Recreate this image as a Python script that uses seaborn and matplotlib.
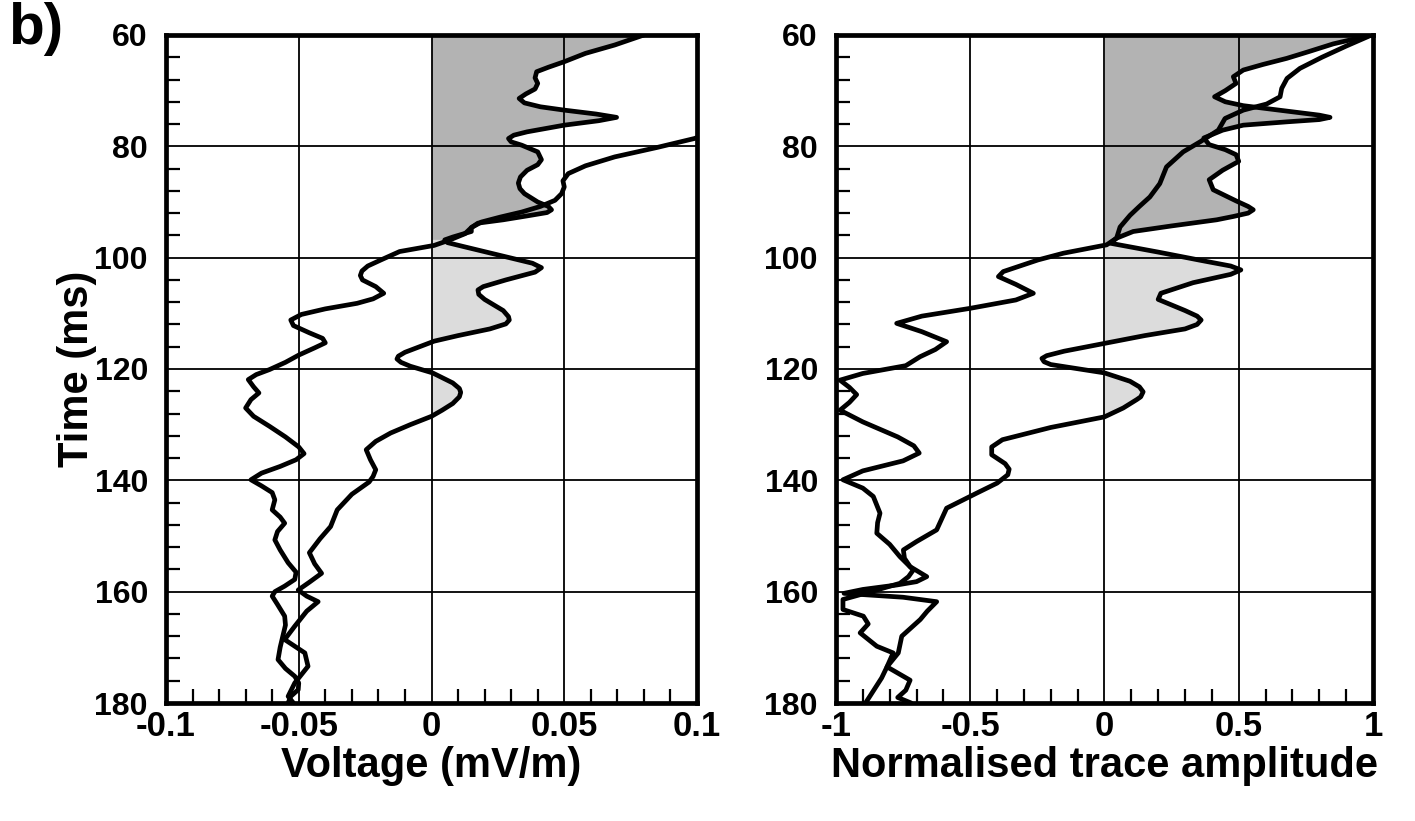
import numpy as np
import matplotlib
matplotlib.use("Agg")
import matplotlib.pyplot as plt
import seaborn as sns
from matplotlib.ticker import MultipleLocator

# ---- data ----
# left panel, trace A (shaded one), time (ms) / voltage (mV/m)
t_volt_a = [60, 61.8, 63.3, 64.8, 65.8, 66.6, 67.7, 68.7, 69.7, 70.6, 71.4, 72.2, 72.9, 73.5,
            74.2, 74.8, 75.4, 76.2, 77.4, 78.0, 78.6, 79.2, 79.8, 81, 82.4, 83.3, 84.3, 85.5,
            86.6, 87.6, 88.5, 90, 90.8, 91.4, 91.9, 92.5, 93.2, 93.8, 94.6, 95.3, 96.3, 96.8,
            97.3, 98, 99.5, 101, 101.8, 102.6, 104, 105.2, 105.8, 106.6, 107.5, 109.5, 110.6,
            111.2, 111.9, 112.8, 114, 115, 117, 117.7, 118.2, 118.8, 119.5, 120.7, 122.5, 123.5,
            124.2, 125, 126.2, 127.4, 128.5, 130, 131.5, 133, 134.5, 136.3, 138.1, 139.3, 140.3,
            142.5, 145.3, 148.3, 150.5, 153, 155, 156.7, 158.3, 159.7, 160.8, 161.8, 163.5,
            166.2, 168.6, 171, 173.4, 176.4, 178.8, 180]
volt_a = [0.080, 0.069, 0.058, 0.050, 0.044, 0.0396, 0.039, 0.040, 0.039, 0.0355, 0.033, 0.035,
          0.041, 0.050, 0.062, 0.0697, 0.063, 0.050, 0.036, 0.031, 0.029, 0.030, 0.034, 0.040,
          0.0414, 0.040, 0.036, 0.0335, 0.0327, 0.0333, 0.035, 0.040, 0.044, 0.0452, 0.0435,
          0.036, 0.027, 0.0175, 0.015, 0.015, 0.008, 0.005, 0.006, 0.012, 0.025, 0.038, 0.0414,
          0.039, 0.028, 0.0195, 0.0175, 0.0178, 0.020, 0.027, 0.029, 0.0293, 0.028, 0.022, 0.010,
          0.001, -0.010, -0.0125, -0.013, -0.0115, -0.008, 0.0004, 0.008, 0.0105, 0.011, 0.0105,
          0.008, 0.004, 0.000, -0.008, -0.0154, -0.021, -0.0246, -0.023, -0.021, -0.022,
          -0.0235, -0.030, -0.0355, -0.038, -0.042, -0.046, -0.044, -0.0414, -0.046, -0.0502,
          -0.047, -0.0427, -0.047, -0.0515, -0.0553, -0.0477, -0.0465, -0.0515, -0.054, -0.052]

# left panel, trace B (runs off the axis at the top)
t_volt_b = [60, 70, 76, 78.6, 80.2, 81.9, 83.5, 84.9, 86.2, 87.3, 88.5, 89.7, 90.8, 91.8, 92.7,
            93.6, 94.6, 95.7, 96.8, 97.8, 98.9, 100.4, 101.5, 102.4, 103.2, 104, 105.2, 106.4,
            107.4, 108.2, 109.2, 110.2, 111.2, 112.2, 113.5, 114.5, 115.3, 116.2, 117.5, 118.8,
            120.1, 121, 121.9, 123.2, 124.3, 125.5, 127, 128.5, 130.3, 132.2, 134, 135.2, 136.3,
            137.5, 138.7, 139.9, 141, 142.2, 143.5, 145.3, 146.6, 147.7, 149.2, 150.7, 152.5,
            154.8, 156.5, 157.8, 159, 160, 160.8, 162.3, 164.4, 166, 167.4, 170, 172.2, 173.8,
            175.2, 176.4, 177.6, 178.8, 180]
volt_b = [0.20, 0.15, 0.115, 0.099, 0.085, 0.069, 0.058, 0.0515, 0.0495, 0.050, 0.049, 0.0465,
          0.041, 0.034, 0.026, 0.0188, 0.015, 0.0126, 0.007, 0.001, -0.012, -0.019, -0.024,
          -0.0262, -0.0268, -0.026, -0.021, -0.018, -0.022, -0.028, -0.040, -0.049, -0.053,
          -0.052, -0.046, -0.041, -0.040, -0.044, -0.050, -0.055, -0.061, -0.066, -0.069,
          -0.067, -0.065, -0.068, -0.070, -0.067, -0.061, -0.055, -0.050, -0.048, -0.051,
          -0.057, -0.064, -0.068, -0.064, -0.060, -0.059, -0.060, -0.057, -0.0553, -0.058,
          -0.059, -0.057, -0.054, -0.051, -0.0515, -0.0553, -0.059, -0.060, -0.058, -0.0553,
          -0.055, -0.0557, -0.057, -0.0578, -0.055, -0.0515, -0.050, -0.0502, -0.053, -0.054]

# right panel, trace A (shaded one), normalised amplitude
t_norm_a = [60, 61.6, 63, 64.2, 65.3, 66.3, 67.5, 68.7, 70, 71.1, 72, 72.7, 73.8, 74.4, 74.8,
            75.2, 75.6, 76.2, 77.1, 78.5, 79.7, 80.6, 81.5, 82.7, 84.3, 86, 87.8, 89.8, 90.8,
            91.4, 92, 92.6, 93.2, 94.3, 95.3, 96.5, 97.4, 99, 100.5, 101.5, 102.2, 103, 104.5,
            106.4, 107.5, 109.5, 110.5, 111.2, 112, 112.8, 114, 115.4, 116.8, 117.6, 118.1,
            118.7, 119.2, 120.7, 122.2, 123.2, 124.1, 125, 125.5, 127, 128.6, 130.5, 132.7,
            134, 135.4, 137, 138, 139, 140.5, 142.3, 145, 148.9, 151, 152.5, 154, 155.5, 157.3,
            158.2, 158.8, 159.6, 160.3, 161, 161.8, 163.5, 165, 168, 171, 173.5, 175.9, 177.7,
            179, 180]
norm_a = [0.995, 0.852, 0.76, 0.679, 0.59, 0.517, 0.48, 0.49, 0.45, 0.41, 0.45, 0.517, 0.70,
          0.80, 0.84, 0.80, 0.68, 0.517, 0.44, 0.37, 0.39, 0.45, 0.49, 0.50, 0.44, 0.39, 0.405,
          0.49, 0.535, 0.554, 0.535, 0.48, 0.418, 0.25, 0.107, 0.045, 0.021, 0.20, 0.36, 0.47,
          0.508, 0.47, 0.33, 0.21, 0.20, 0.30, 0.345, 0.36, 0.345, 0.30, 0.15, 0.0, -0.15,
          -0.215, -0.233, -0.225, -0.20, 0.0, 0.095, 0.13, 0.144, 0.135, 0.12, 0.07, 0.0, -0.2,
          -0.38, -0.42, -0.42, -0.37, -0.355, -0.36, -0.40, -0.476, -0.588, -0.625, -0.70,
          -0.749, -0.745, -0.724, -0.662, -0.70, -0.774, -0.90, -0.97, -0.75, -0.625, -0.66,
          -0.686, -0.755, -0.768, -0.81, -0.724, -0.74, -0.77, -0.72]

# right panel, trace B
t_norm_b = [60, 62, 64, 66, 67.8, 69.6, 71.1, 72.4, 73.5, 75, 77.1, 79.2, 81, 83.7, 86.7, 89.1,
            90.8, 92.4, 94.5, 96.5, 97.7, 99.2, 100.4, 102.5, 103.4, 104.8, 106.4, 107.6, 109.1,
            110.5, 111.8, 113.3, 115.1, 116.5, 117.8, 119.4, 120.8, 122, 123.3, 124.6, 126,
            127.4, 129.5, 132.2, 133.8, 135.1, 136.5, 138.3, 139.9, 141.4, 142.9, 145.9, 147.6,
            149.5, 151.5, 153.7, 156.1, 157.3, 158.5, 160, 161.4, 163.2, 164.4, 165.8, 167.4,
            169.8, 171, 173.5, 175.5, 177, 180]
norm_b = [0.995, 0.90, 0.81, 0.728, 0.68, 0.66, 0.654, 0.604, 0.517, 0.449, 0.424, 0.356, 0.293,
          0.231, 0.206, 0.169, 0.13, 0.095, 0.058, 0.045, 0.008, -0.153, -0.247, -0.377, -0.395,
          -0.33, -0.265, -0.33, -0.50, -0.68, -0.774, -0.68, -0.588, -0.63, -0.687, -0.74,
          -0.90, -0.985, -0.95, -0.923, -0.95, -0.985, -0.90, -0.77, -0.71, -0.69, -0.75, -0.90,
          -0.974, -0.90, -0.861, -0.836, -0.845, -0.848, -0.80, -0.762, -0.712, -0.73, -0.762,
          -0.87, -0.974, -0.974, -0.898, -0.88, -0.91, -0.848, -0.787, -0.81, -0.83, -0.85,
          -0.89]

volt_ticks = [-0.1, -0.05, 0, 0.05, 0.1]
volt_labels = ["-0.1", "-0.05", "0", "0.05", "0.1"]
norm_ticks = [-1, -0.5, 0, 0.5, 1]
norm_labels = ["-1", "-0.5", "0", "0.5", "1"]
time_ticks = [60, 80, 100, 120, 140, 160, 180]

sns.set_style("white")
plt.rcParams["font.family"] = ["Liberation Sans", "DejaVu Sans"]
plt.rcParams["font.weight"] = "bold"
for key in ["text.color", "axes.labelcolor", "xtick.color", "ytick.color"]:
    plt.rcParams[key] = "black"

fig = plt.figure(figsize=(14.15, 8.21), dpi=100)
ax1 = fig.add_axes([0.1173, 0.1437, 0.3753, 0.8137])
ax2 = fig.add_axes([0.5908, 0.1437, 0.3795, 0.8137])


def draw_panel(ax, ta, xa, tb, xb, split, xticks, xlabels, minor_step, xlabel):
    ta = np.array(ta)
    xa = np.array(xa)
    # variable-area shading of the positive lobes of trace A
    ax.fill_betweenx(ta, 0, xa, where=(xa > 0) & (ta <= split), interpolate=True,
                     color="#b3b3b3", lw=0, zorder=1)
    ax.fill_betweenx(ta, 0, xa, where=(xa > 0) & (ta >= split), interpolate=True,
                     color="#dcdcdc", lw=0, zorder=1)
    for t, x in [(ta, xa), (tb, xb)]:
        sns.lineplot(x=x, y=t, orient="y", sort=False, estimator=None, color="black",
                     lw=3.4, ax=ax, zorder=3, solid_joinstyle="round",
                     solid_capstyle="round")
    ax.set_xlim(xticks[0], xticks[-1])
    ax.set_ylim(180, 60)
    ax.set_xticks(xticks, xlabels)
    ax.set_yticks(time_ticks)
    ax.xaxis.set_minor_locator(MultipleLocator(minor_step))
    ax.yaxis.set_minor_locator(MultipleLocator(4))
    ax.grid(True, which="major", color="black", lw=1.3, zorder=2)
    ax.set_axisbelow(False)
    ax.tick_params(axis="y", which="major", length=0, labelsize=23, pad=13)
    ax.tick_params(axis="x", which="major", length=0, labelsize=25, pad=5)
    ax.tick_params(which="minor", direction="in", length=10, width=1.6, color="black",
                   top=False, right=False, bottom=True, left=True)
    for s in ax.spines.values():
        s.set_linewidth(3.4)
        s.set_color("black")
        s.set_zorder(4)
    ax.set_xlabel(xlabel, fontsize=30, fontweight="bold", labelpad=2)
    ax.set_ylabel("")


draw_panel(ax1, t_volt_a, volt_a, t_volt_b, volt_b, 96.8, volt_ticks, volt_labels, 0.01,
           "Voltage (mV/m)")
draw_panel(ax2, t_norm_a, norm_a, t_norm_b, norm_b, 97.4, norm_ticks, norm_labels, 0.1,
           "Normalised trace amplitude")

ax1.set_ylabel("Time (ms)", fontsize=30, fontweight="bold", labelpad=-2)
fig.text(0.006, 0.997, "b)", fontsize=42, fontweight="bold", va="top", ha="left")

fig.savefig("out.png", dpi=100)
